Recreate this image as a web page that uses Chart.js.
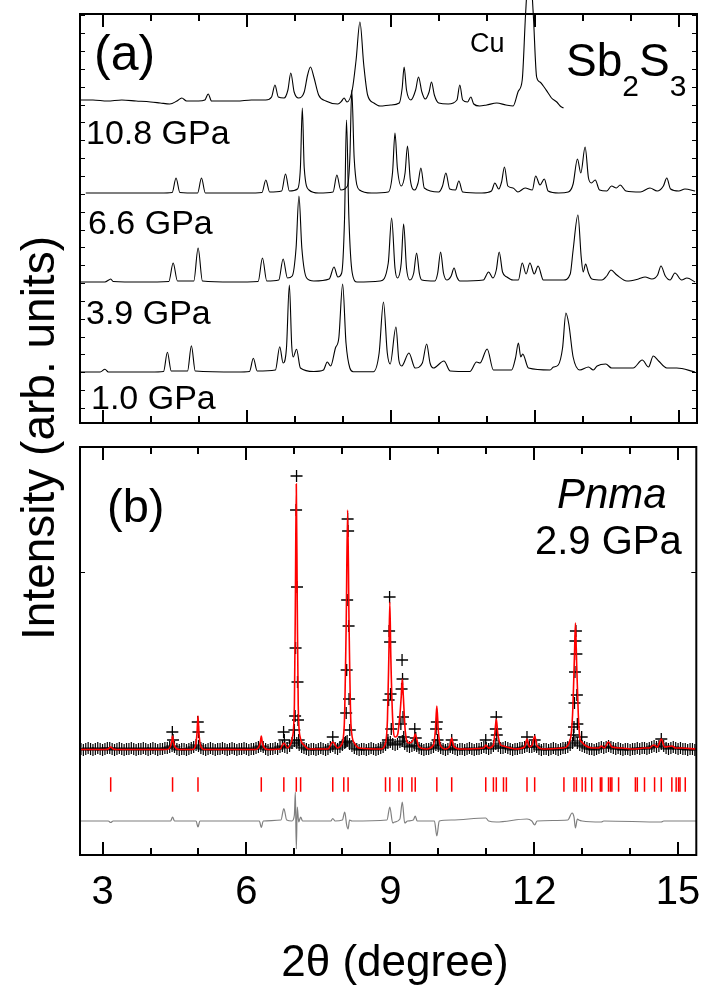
<!DOCTYPE html>
<html>
<head>
<meta charset="utf-8">
<script src="https://cdn.jsdelivr.net/npm/chart.js@4.4.1/dist/chart.umd.min.js"></script>
<style>
  body { margin: 0; background: #fff; }
  #fig { position: relative; width: 705px; height: 990px; overflow: hidden; background: #fff;
         font-family: 'Liberation Sans', Arial, sans-serif; color: #000; }
  .box { position: absolute; left: 0; width: 705px; }
  .txt { position: absolute; line-height: 1; white-space: nowrap; }
  .sub { font-size: 30px; position: relative; top: 20px; }
</style>
</head>
<body>
<div id="fig">
  <div class="box" style="top:0;height:440px"><canvas id="chartA"></canvas></div>
  <div class="box" style="top:430px;height:560px"><canvas id="chartB"></canvas></div>

  <div class="txt" style="left:94px;top:28px;font-size:50px">(a)</div>
  <div class="txt" style="left:470px;top:30px;font-size:27px">Cu</div>
  <div class="txt" style="left:566px;top:37px;font-size:46px">Sb<span class="sub">2</span>S<span class="sub">3</span></div>
  <div class="txt" style="left:86px;top:115px;font-size:34px">10.8 GPa</div>
  <div class="txt" style="left:88px;top:205px;font-size:34px">6.6 GPa</div>
  <div class="txt" style="left:86px;top:295px;font-size:34px">3.9 GPa</div>
  <div class="txt" style="left:91px;top:380px;font-size:34px">1.0 GPa</div>

  <div class="txt" style="left:107px;top:482px;font-size:47px">(b)</div>
  <div class="txt" style="left:557px;top:473px;font-size:42px;font-style:italic">Pnma</div>
  <div class="txt" style="left:535px;top:520px;font-size:40px">2.9 GPa</div>

  <div class="txt" style="left:-212px;top:415px;width:500px;text-align:center;font-size:46px;transform:rotate(-90deg)">Intensity (arb. units)</div>
  <div class="txt" style="left:195px;top:939px;width:400px;text-align:center;font-size:44px">2θ (degree)</div>
</div>

<script>
// ---------- panel (a): stacked patterns, [2theta, intensity] ----------
const p108 = [
  [2.53,308],[2.8,308],[3.1,307],[3.4,308],[3.7,307],[4.0,306],[4.2,305],[4.4,304],[4.55,307],[4.65,310],
  [4.75,307],[5.0,307],[5.13,308],[5.2,314],[5.27,307],[5.5,307],[5.8,307],[6.1,308],[6.4,308],[6.52,311],
  [6.59,323],[6.66,311],[6.78,310],[6.86,318],[6.92,335],[6.99,316],[7.08,310],[7.2,316],[7.27,333],[7.33,341],
  [7.4,331],[7.5,313],[7.65,307],[7.9,304],[7.98,307],[8.03,310],[8.09,306],[8.2,318],[8.28,348],[8.36,386],
  [8.44,343],[8.52,313],[8.65,305],[8.78,302],[9.0,303],[9.18,305],[9.24,320],[9.28,341],[9.33,318],[9.42,308],
  [9.52,318],[9.58,331],[9.65,316],[9.72,309],[9.8,316],[9.85,326],[9.91,313],[10.0,305],[10.2,304],[10.38,308],
  [10.44,323],[10.5,308],[10.6,306],[10.67,311],[10.73,304],[10.85,302],[11.0,303],[11.21,305],[11.4,303],[11.55,302],
  [11.66,317],[11.74,328],[11.81,394],[11.89,448],[11.97,394],[12.04,331],[12.11,326],[12.18,322],[12.28,315],[12.35,310],
  [12.46,306],[12.53,302],[12.6,300]
];
const p66 = [
  [2.65,215],[3.5,215],[4.2,215],[4.45,215.5],[4.53,230],[4.61,215.5],[4.98,215],[5.06,230],[5.14,215],[6.0,215],
  [6.32,215.5],[6.4,228],[6.48,216],[6.73,217],[6.81,234],[6.89,217],[7.06,219],[7.12,240],[7.16,300],[7.2,240],
  [7.3,218],[7.5,215],[7.8,216],[7.88,233],[7.96,218],[8.1,222],[8.15,250],[8.19,318],[8.24,250],[8.35,218],
  [8.6,215],[8.95,216],[9.04,236],[9.09,275],[9.14,240],[9.22,222],[9.3,235],[9.35,262],[9.41,228],[9.5,218],
  [9.57,225],[9.63,240],[9.7,220],[10.0,216],[10.08,222],[10.15,235],[10.23,219],[10.35,218],[10.42,227],[10.5,216],
  [10.9,215],[11.1,217],[11.17,225],[11.25,219],[11.31,226],[11.37,241],[11.44,222],[11.55,220],[11.65,216],[11.8,220],
  [11.95,218],[12.02,232],[12.11,223],[12.2,229],[12.28,217],[12.5,215],[12.7,216],[12.8,224],[12.89,249],[12.96,235],
  [13.05,261],[13.12,230],[13.18,225],[13.26,228],[13.35,218],[13.5,217],[13.6,222],[13.7,220],[13.78,223],[13.9,217],
  [14.2,216],[14.4,220],[14.55,217],[14.68,222],[14.75,230],[14.83,219],[15.0,217],[15.13,219],[15.34,217]
];
const p39 = [
  [2.55,126],[3.05,126],[3.13,128],[3.17,129],[3.22,126.5],[3.8,126],[4.38,126.5],[4.47,145],[4.56,127],[4.9,127],
  [4.99,160],[5.08,127],[5.7,126],[6.24,126.5],[6.33,150],[6.42,127],[6.67,128],[6.76,149],[6.85,130],[6.95,132],
  [7.03,160],[7.09,212],[7.15,160],[7.25,130],[7.4,127],[7.72,129],[7.82,141],[7.9,131],[7.98,135],[8.04,190],
  [8.08,288],[8.13,190],[8.2,135],[8.3,126],[8.78,127],[8.95,145],[9.02,190],[9.09,140],[9.14,130],[9.22,145],
  [9.27,184],[9.33,140],[9.4,128],[9.48,135],[9.54,155],[9.6,134],[9.65,128],[9.92,127],[9.98,135],[10.04,156],
  [10.1,135],[10.17,128],[10.26,132],[10.32,140],[10.38,131],[10.44,127],[10.93,128],[11.04,136],[11.13,130],[11.2,138],
  [11.26,156],[11.33,136],[11.42,131],[11.55,128],[11.66,128],[11.74,145],[11.82,134],[11.9,145],[11.99,134],[12.07,142],
  [12.18,128],[12.6,128],[12.74,134],[12.8,158],[12.9,193],[12.97,150],[13.01,136],[13.06,144],[13.12,135],[13.19,129],
  [13.4,128],[13.5,132],[13.59,138],[13.71,133],[13.92,127],[14.16,129],[14.3,131],[14.44,129],[14.56,133],[14.63,142],
  [14.72,132],[14.82,128],[14.92,135],[15.06,128],[15.17,130],[15.34,126]
];
const p10 = [
  [2.53,36],[2.95,36],[3.05,38.7],[3.12,36],[4.0,36],[4.27,36.5],[4.35,55.7],[4.43,37],[4.77,37],[4.85,62.3],
  [4.93,37],[5.8,36],[6.06,36.5],[6.14,49.7],[6.22,37],[6.6,38],[6.69,61.3],[6.76,45],[6.83,60],[6.89,123],
  [6.94,62],[6.97,51],[7.04,58.7],[7.12,40],[7.4,36.5],[7.6,38],[7.68,46],[7.75,42],[7.85,60],[7.92,70],
  [8.0,124],[8.07,65],[8.15,40],[8.22,36.3],[8.64,36.3],[8.76,55],[8.85,106],[8.93,55],[8.99,44],[9.11,81],
  [9.17,48],[9.23,42],[9.38,55],[9.51,40],[9.66,45],[9.75,64],[9.82,45],[9.89,40],[10.11,47],[10.24,37],
  [10.65,36.5],[10.79,46],[10.86,45],[11.01,59],[11.14,38],[11.52,38],[11.6,50],[11.66,65],[11.71,51],[11.75,54],
  [11.87,40],[12.32,38],[12.39,41],[12.49,43],[12.58,60],[12.65,95],[12.71,84],[12.8,51],[12.94,38],[13.12,41],
  [13.22,38],[13.3,42],[13.48,44],[13.6,40],[14.05,40],[14.24,48],[14.37,41],[14.47,52],[14.58,47],[14.75,40],
  [14.96,40],[15.34,36]
];

// ---------- panel (b): Rietveld fit at 2.9 GPa ----------
// observed points along the background
const obsBase = [
  [2.55,106],[2.60,105],[2.65,106],[2.70,107],[2.75,106],[2.80,105],[2.85,106],[2.90,107],[2.95,106],[3.00,105],
  [3.05,106],[3.10,107],[3.15,107],[3.20,106],[3.25,105],[3.30,106],[3.35,107],[3.40,106],[3.45,105],[3.50,106],
  [3.55,106],[3.60,107],[3.65,106],[3.70,105],[3.75,106],[3.80,106],[3.85,107],[3.90,106],[3.95,105],[4.00,106],
  [4.05,107],[4.10,106],[4.15,105],[4.20,106],[4.25,106],[4.30,107],[4.35,107],[4.40,108],[4.45,109],[4.50,108],
  [4.55,106],[4.60,105],[4.65,106],[4.70,106],[4.75,105],[4.80,106],[4.85,107],[4.90,108],[4.95,110],[5.00,109],
  [5.05,107],[5.10,106],[5.15,105],[5.20,106],[5.25,107],[5.30,106],[5.35,105],[5.40,106],[5.45,106],[5.50,107],
  [5.55,106],[5.60,105],[5.65,106],[5.70,107],[5.75,106],[5.80,105],[5.85,106],[5.90,106],[5.95,107],[6.00,106],
  [6.05,105],[6.10,106],[6.15,106],[6.20,107],[6.25,108],[6.30,109],[6.35,108],[6.40,106],[6.45,105],[6.50,106],
  [6.55,106],[6.60,107],[6.65,106],[6.70,108],[6.75,109],[6.80,108],[6.85,107],[6.90,109],[6.95,112],[7.00,114],
  [7.05,112],[7.10,110],[7.15,108],[7.20,107],[7.25,106],[7.30,105],[7.35,106],[7.40,106],[7.45,105],[7.50,106],
  [7.55,107],[7.60,106],[7.65,105],[7.70,106],[7.75,108],[7.80,109],[7.85,107],[7.90,106],[7.95,108],[8.00,110],
  [8.05,112],[8.10,114],[8.15,111],[8.20,109],[8.25,107],[8.30,106],[8.35,105],[8.40,106],[8.45,106],[8.50,105],
  [8.55,106],[8.60,107],[8.65,106],[8.70,105],[8.75,106],[8.80,107],[8.85,108],[8.90,110],[8.95,112],[9.00,113],
  [9.05,111],[9.10,110],[9.15,111],[9.20,113],[9.25,114],[9.30,111],[9.35,109],[9.40,108],[9.45,109],[9.50,110],
  [9.55,109],[9.60,107],[9.65,106],[9.70,105],[9.75,106],[9.80,106],[9.85,107],[9.90,108],[9.95,110],[10.00,109],
  [10.05,107],[10.10,106],[10.15,105],[10.20,106],[10.25,108],[10.30,107],[10.35,106],[10.40,105],[10.45,106],[10.50,106],
  [10.55,105],[10.60,106],[10.65,107],[10.70,106],[10.75,105],[10.80,106],[10.85,106],[10.90,107],[10.95,108],[11.00,107],
  [11.05,106],[11.10,107],[11.15,109],[11.20,111],[11.25,109],[11.30,107],[11.35,107],[11.40,108],[11.45,107],[11.50,106],
  [11.55,105],[11.60,106],[11.65,106],[11.70,107],[11.75,107],[11.80,108],[11.85,109],[11.90,108],[11.95,108],[12.00,109],
  [12.05,108],[12.10,106],[12.15,105],[12.20,106],[12.25,106],[12.30,105],[12.35,106],[12.40,107],[12.45,106],[12.50,105],
  [12.55,106],[12.60,107],[12.65,107],[12.70,108],[12.75,110],[12.80,112],[12.85,114],[12.90,112],[12.95,110],[13.00,109],
  [13.05,108],[13.10,107],[13.15,106],[13.20,106],[13.25,105],[13.30,106],[13.35,107],[13.40,108],[13.45,107],[13.50,108],
  [13.55,109],[13.60,108],[13.65,107],[13.70,106],[13.75,107],[13.80,106],[13.85,105],[13.90,106],[13.95,106],[14.00,105],
  [14.05,106],[14.10,106],[14.15,107],[14.20,106],[14.25,107],[14.30,107],[14.35,106],[14.40,107],[14.45,108],[14.50,109],
  [14.55,108],[14.60,109],[14.65,111],[14.70,109],[14.75,107],[14.80,106],[14.85,107],[14.90,108],[14.95,107],[15.00,106],
  [15.05,107],[15.10,106],[15.15,106],[15.20,105],[15.25,106],[15.30,106],[15.35,105]
];
// observed points on the peaks
const obsPeaks = [
  [4.455,123],[4.47,115],[4.985,133],[5.0,123],[6.775,123],[6.79,115],
  [7.0,125],[7.015,139],[7.025,207],[7.035,345],[7.045,379],[7.055,268],[7.065,173],[7.075,135],[7.09,115],
  [7.8,118],
  [8.07,113],[8.08,142],[8.09,185],[8.1,255],[8.11,336],[8.12,324],[8.13,229],[8.14,156],[8.155,125],
  [8.95,115],[8.965,155],[8.975,224],[8.985,258],[8.995,213],[9.005,161],[9.02,126],
  [9.22,131],[9.235,166],[9.245,195],[9.255,176],[9.265,138],[9.28,118],
  [9.51,126],[9.53,117],[9.955,126],[9.97,133],[9.985,115],[10.28,115],[10.99,115],
  [11.2,126],[11.21,138],[11.22,120],[11.85,118],[12.01,115],
  [12.82,120],[12.83,128],[12.84,152],[12.85,183],[12.86,214],[12.87,224],[12.88,201],[12.89,160],[12.9,131],
  [12.99,118],[14.65,116]
];
const calc = [
  [2.53,105.5],[3.05,105.5],[3.12,106],[3.17,108],[3.22,106],[3.3,105.5],[4.35,105.5],[4.41,108],[4.44,113],[4.46,119],
  [4.48,113],[4.51,108],[4.6,105.5],[4.88,105.5],[4.94,110],[4.97,122],[4.99,139],[5.01,122],[5.04,110],[5.12,105.5],
  [6.2,105.5],[6.26,108],[6.29,113],[6.31,119],[6.33,113],[6.36,108],[6.45,105.5],[6.7,106],[6.78,112],[6.86,107],
  [6.9,109],[6.96,118],[7.0,150],[7.02,250],[7.04,371],[7.06,250],[7.08,150],[7.12,118],[7.2,110],[7.3,106],
  [7.7,106],[7.8,113],[7.9,107],[7.98,110],[8.04,130],[8.08,230],[8.11,345],[8.14,230],[8.18,130],[8.25,112],
  [8.35,107],[8.8,106],[8.9,112],[8.94,135],[8.97,200],[8.99,253],[9.01,200],[9.05,135],[9.1,118],[9.15,120],
  [9.2,140],[9.23,160],[9.25,176],[9.27,160],[9.31,125],[9.38,112],[9.45,113],[9.5,118],[9.52,121],[9.54,118],
  [9.6,108],[9.75,106],[9.9,110],[9.94,125],[9.97,149],[10.0,125],[10.04,110],[10.15,106],[10.24,109],[10.28,117],
  [10.32,109],[10.45,106],[10.95,107],[10.99,110],[11.05,107],[11.15,110],[11.18,122],[11.21,136],[11.24,122],[11.3,110],
  [11.36,109],[11.42,108],[11.6,106],[11.8,108],[11.85,116],[11.9,108],[11.96,110],[12.01,119],[12.06,109],[12.2,106],
  [12.6,107],[12.75,115],[12.8,140],[12.84,200],[12.86,232],[12.88,200],[12.92,140],[12.96,115],[12.99,113],[13.05,110],
  [13.2,107],[13.35,107],[13.4,109],[13.46,107],[13.55,113],[13.62,108],[13.8,107],[14.1,106],[14.29,107],[14.4,107],
  [14.49,110],[14.57,108],[14.65,116],[14.72,108],[14.87,109],[14.95,107],[15.06,107],[15.38,106]
];
const diff = [
  [2.53,34],[3.12,34],[3.17,32.5],[3.22,34],[4.42,34],[4.46,38],[4.5,34],[4.95,34],[4.99,28],[5.03,34],
  [6.27,34],[6.31,27.5],[6.35,34],[6.72,35],[6.78,46.5],[6.84,35],[6.95,34],[7.0,40],[7.02,63],[7.04,6],
  [7.06,48],[7.09,33],[7.13,38],[7.17,34],[7.76,34],[7.8,36.5],[7.85,34],[8.0,35],[8.05,43],[8.09,30],
  [8.12,26],[8.15,35],[8.2,34],[8.93,35],[8.99,48],[9.05,32],[9.09,33],[9.2,36],[9.25,53],[9.3,32],
  [9.36,34],[9.48,35],[9.52,39],[9.56,34],[9.92,34],[9.97,19],[10.02,34],[10.28,35],[10.99,37],[11.05,34],
  [11.21,33],[11.85,36],[11.95,34],[12.01,30],[12.06,34],[12.7,35],[12.79,42],[12.83,38],[12.86,27],[12.9,36],
  [12.93,35],[13.0,34],[13.4,33],[13.45,34],[14.65,33],[14.7,34],[15.38,34]
];
const bragg = [3.17,4.46,4.99,6.31,6.78,7.04,7.13,7.80,8.03,8.12,8.90,8.99,9.18,9.25,9.45,9.52,9.97,10.28,
  10.99,11.15,11.21,11.36,11.42,11.85,12.01,12.62,12.83,12.88,13.00,13.07,13.20,13.38,13.41,13.55,13.59,13.62,
  13.76,14.11,14.15,14.30,14.51,14.65,14.87,14.96,15.01,15.04,15.15];
const braggLevel = 70.5;

const xRange = [2.53, 15.38];

Chart.defaults.font.family = "'Liberation Sans', Arial, sans-serif";
Chart.defaults.color = '#000';

// frame with inward ticks on all four sides
const frameTicks = {
  id: 'frameTicks',
  afterDraw(chart) {
    const {ctx, chartArea: a, scales: {x, y}} = chart;
    ctx.save();
    ctx.strokeStyle = '#000';
    ctx.lineWidth = 2;
    ctx.beginPath();
    x.ticks.forEach(t => {
      const px = Math.round(x.getPixelForValue(t.value));
      const len = t.value % 3 === 0 ? 13 : 7;
      ctx.moveTo(px, a.top); ctx.lineTo(px, a.top + len);
      ctx.moveTo(px, a.bottom); ctx.lineTo(px, a.bottom - len);
    });
    ctx.stroke();
    ctx.lineWidth = 1.2;
    ctx.beginPath();
    y.ticks.forEach(t => {
      const py = Math.round(y.getPixelForValue(t.value)) + 0.5;
      ctx.moveTo(a.left, py); ctx.lineTo(a.left + 5, py);
      ctx.moveTo(a.right, py); ctx.lineTo(a.right - 5, py);
    });
    ctx.stroke();
    ctx.lineWidth = 2;
    ctx.strokeRect(a.left, a.top, a.right - a.left, a.bottom - a.top);
    ctx.restore();
  }
};

const hidden = {display: false, drawTicks: false};

function trace(data, extra) {
  return Object.assign({data, borderColor: '#000', borderWidth: 1.1, pointRadius: 0,
    cubicInterpolationMode: 'monotone'}, extra || {});
}

new Chart(document.getElementById('chartA'), {
  type: 'line',
  data: {datasets: [
    trace(p108, {label: '10.8 GPa', clip: false}),
    trace(p66, {label: '6.6 GPa'}),
    trace(p39, {label: '3.9 GPa'}),
    trace(p10, {label: '1.0 GPa'})
  ]},
  options: {
    responsive: true, maintainAspectRatio: false, animation: false,
    layout: {padding: {left: 80, right: 8, top: 14, bottom: 17}},
    plugins: {legend: {display: false}, tooltip: {enabled: false}},
    scales: {
      x: {type: 'linear', min: xRange[0], max: xRange[1], grid: hidden, border: {display: false},
          ticks: {display: false, stepSize: 1, includeBounds: false}},
      y: {type: 'linear', min: -15, max: 394, grid: hidden, border: {display: false},
          ticks: {display: false, stepSize: 17.85, includeBounds: false}}
    }
  },
  plugins: [frameTicks]
});

new Chart(document.getElementById('chartB'), {
  type: 'line',
  data: {datasets: [
    {label: 'calc', data: calc, order: 0, borderColor: '#ff0000', borderWidth: 1.6, pointRadius: 0,
     cubicInterpolationMode: 'monotone'},
    {label: 'obs', data: obsPeaks, order: 1, showLine: false, pointStyle: 'cross', pointRadius: 6,
     borderColor: '#000', borderWidth: 1.3},
    {label: 'obs base', data: obsBase, order: 2, showLine: false, pointStyle: 'cross', pointRadius: 6,
     borderColor: '#000', borderWidth: 1.2},
    {label: 'Bragg', data: bragg.map(v => [v, braggLevel]), order: 3, showLine: false, pointStyle: 'line',
     rotation: 90, pointRadius: 7.2, borderColor: '#ff0000', borderWidth: 1.5},
    {label: 'diff', data: diff, order: 4, borderColor: '#7f7f7f', borderWidth: 1.2, pointRadius: 0,
     cubicInterpolationMode: 'monotone'}
  ]},
  options: {
    responsive: true, maintainAspectRatio: false, animation: false,
    layout: {padding: {left: 80, right: 8, top: 17, bottom: 59}},
    plugins: {legend: {display: false}, tooltip: {enabled: false}},
    scales: {
      x: {type: 'linear', min: xRange[0], max: xRange[1], grid: hidden, border: {display: false},
          ticks: {stepSize: 1, includeBounds: false, autoSkip: false, maxRotation: 0, padding: 0,
                  font: {size: 40, lineHeight: 1.9}, color: '#000',
                  callback: v => (v % 3 === 0 ? String(v) : '')}},
      y: {type: 'linear', min: 0, max: 408, grid: hidden, border: {display: false},
          ticks: {display: false, stepSize: 283.3, includeBounds: false}}
    }
  },
  plugins: [frameTicks]
});
</script>
</body>
</html>
